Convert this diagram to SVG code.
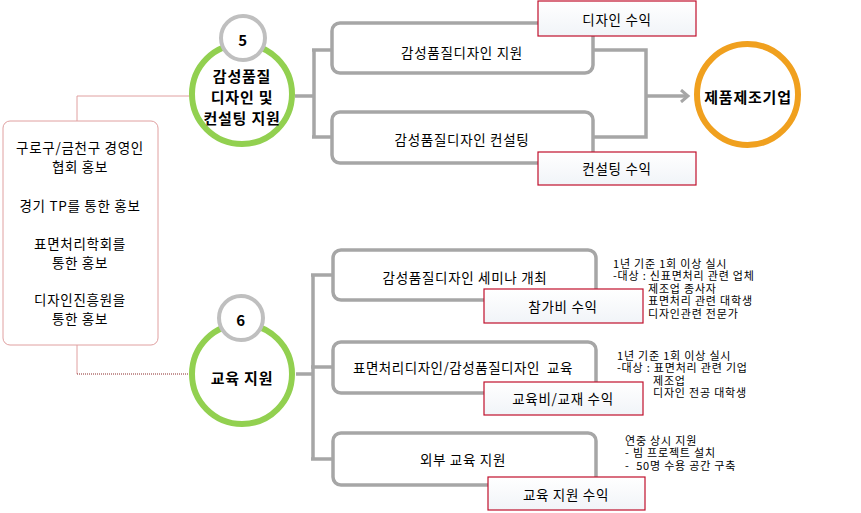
<svg xmlns="http://www.w3.org/2000/svg" width="861" height="513" viewBox="0 0 861 513">
<defs>
<style>
text{font-family:"Noto Sans CJK KR","Noto Sans",sans-serif;fill:#000;dominant-baseline:central}
.c{text-anchor:middle}
.b{font-weight:bold;font-size:15px;letter-spacing:0.8px}
.m{font-size:13.5px;letter-spacing:0.7px}
.n{font-size:11px;letter-spacing:0.8px}
.gbox{fill:#fff;stroke:#a6a6a6;stroke-width:3.5}
.rbox{fill:url(#rg);stroke:#c0102c;stroke-width:1.2}
.gl{fill:none;stroke:#a6a6a6;stroke-width:3.5}
.green{fill:#fff;stroke:#92d050;stroke-width:6}
.small{fill:#fff;stroke:#bfbfbf;stroke-width:4}
</style>
<linearGradient id="rg" x1="0" y1="0" x2="0" y2="1"><stop offset="0" stop-color="#ffffff"/><stop offset="1" stop-color="#f1f4f8"/></linearGradient>
<marker id="arr" markerWidth="12" markerHeight="14" refX="9" refY="7" orient="auto" markerUnits="userSpaceOnUse"><path d="M2,1 L9,7 L2,13" fill="none" stroke="#a6a6a6" stroke-width="3"/></marker>
</defs>
<rect width="861" height="513" fill="#fff"/>
<g id="connectors">
<path d="M77,121 V96 H190" fill="none" stroke="#e0a0a0" stroke-width="1"/>
<path d="M77,345 V374" fill="none" stroke="#e0a0a0" stroke-width="1"/>
<path d="M77,374 H190" fill="none" stroke="#8b2a2a" stroke-width="1" stroke-dasharray="1 1"/>
<path class="gl" d="M295,96 H314 M314,50 V137 M312,50 H334 M312,137 H334"/>
<path class="gl" d="M591,50 H646 V137 H591"/>
<path class="gl" d="M646,96 H688" marker-end="url(#arr)"/>
<path class="gl" d="M296,374 H313 M313,275 V459 M311,275 H335 M311,367 H335 M311,459 H335"/>
</g>
<g id="promo">
<rect x="3" y="121" width="155" height="224" rx="7" fill="#fff" stroke="#e0a0a0" stroke-width="1"/>
<text class="c m" x="80" y="147">구로구/금천구 경영인</text>
<text class="c m" x="80" y="166">협회 홍보</text>
<text class="c m" x="80" y="205">경기 TP를 통한 홍보</text>
<text class="c m" x="80" y="243">표면처리학회를</text>
<text class="c m" x="80" y="262">통한 홍보</text>
<text class="c m" x="80" y="299">디자인진흥원을</text>
<text class="c m" x="80" y="318">통한 홍보</text>
</g>
<g id="node5">
<circle class="green" cx="242" cy="94" r="50"/>
<circle class="small" cx="243" cy="38" r="22"/>
<text class="c b" x="243" y="39">5</text>
<text class="c b" x="242" y="75">감성품질</text>
<text class="c b" x="242" y="96">디자인 및</text>
<text class="c b" x="242" y="117">컨설팅 지원</text>
</g>
<g id="node6">
<circle class="green" cx="242" cy="374" r="50"/>
<circle class="small" cx="241" cy="318" r="22"/>
<text class="c b" x="241" y="319">6</text>
<text class="c b" x="242" y="377">교육 지원</text>
</g>
<g id="design-support">
<rect class="gbox" x="332" y="23" width="261" height="50" rx="8"/>
<text class="c m" x="462" y="52">감성품질디자인 지원</text>
</g>
<g id="design-consulting">
<rect class="gbox" x="332" y="112" width="261" height="51" rx="8"/>
<text class="c m" x="462" y="139">감성품질디자인 컨설팅</text>
</g>
<g id="design-revenue">
<rect class="rbox" x="538" y="1" width="158" height="35"/>
<text class="c m" x="617" y="19">디자인 수익</text>
</g>
<g id="consulting-revenue">
<rect class="rbox" x="538" y="152" width="158" height="33"/>
<text class="c m" x="617" y="168">컨설팅 수익</text>
</g>
<g id="manufacturer">
<circle cx="747.5" cy="94.5" r="50.5" fill="#fff" stroke="#f0a01e" stroke-width="6"/>
<text class="c b" x="748" y="96">제품제조기업</text>
</g>
<g id="seminar">
<rect class="gbox" x="333" y="250" width="263" height="50" rx="8"/>
<text class="c m" x="465" y="277">감성품질디자인 세미나 개최</text>
</g>
<g id="seminar-revenue">
<rect class="rbox" x="484" y="289" width="159" height="34"/>
<text class="c m" x="563" y="306">참가비 수익</text>
</g>
<g id="education">
<rect class="gbox" x="333" y="342" width="263" height="51" rx="8"/>
<text class="m" x="353" y="367" textLength="220" xml:space="preserve">표면처리디자인/감성품질디자인  교육</text>
</g>
<g id="education-revenue">
<rect class="rbox" x="484" y="382" width="159" height="33"/>
<text class="c m" x="563" y="398">교육비/교재 수익</text>
</g>
<g id="external">
<rect class="gbox" x="333" y="433" width="263" height="52" rx="8"/>
<text class="c m" x="463" y="459">외부 교육 지원</text>
</g>
<g id="external-revenue">
<rect class="rbox" x="488" y="477" width="157" height="33"/>
<text class="c m" x="566" y="494">교육 지원 수익</text>
</g>
<g id="note1">
<text class="n" x="613" y="263">1년 기준 1회 이상 실시</text>
<text class="n" x="613" y="275">-대상 : 신표면처리 관련 업체</text>
<text class="n" x="648" y="288">제조업 종사자</text>
<text class="n" x="648" y="300">표면처리 관련 대학생</text>
<text class="n" x="648" y="313">디자인관련 전문가</text>
</g>
<g id="note2">
<text class="n" x="617" y="355">1년 기준 1회 이상 실시</text>
<text class="n" x="617" y="367">-대상 : 표면처리 관련 기업</text>
<text class="n" x="653" y="380">제조업</text>
<text class="n" x="653" y="392">디자인 전공 대학생</text>
</g>
<g id="note3">
<text class="n" x="625" y="440">연중 상시 지원</text>
<text class="n" x="625" y="452">- 빔 프로젝트 설치</text>
<text class="n" x="625" y="465" xml:space="preserve">-  50명 수용 공간 구축</text>
</g>
</svg>
